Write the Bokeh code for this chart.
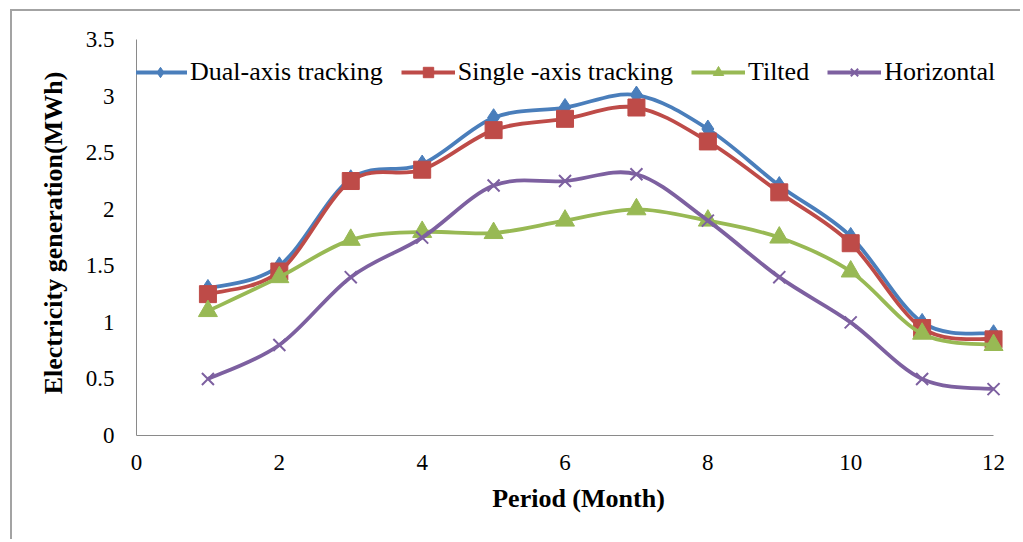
from bokeh.plotting import figure
from bokeh.models import Range1d, FixedTicker, Legend, LegendItem, ColumnDataSource
from bokeh.embed import file_html
from bokeh.resources import INLINE

# ---- data ----
months = [1, 2, 3, 4, 5, 6, 7, 8, 9, 10, 11, 12]
dual_axis = [1.30, 1.50, 2.27, 2.40, 2.81, 2.90, 3.01, 2.71, 2.21, 1.76, 1.00, 0.90]
single_axis = [1.25, 1.45, 2.25, 2.35, 2.70, 2.80, 2.90, 2.60, 2.15, 1.70, 0.95, 0.85]
tilted = [1.10, 1.40, 1.73, 1.80, 1.79, 1.90, 2.00, 1.90, 1.75, 1.45, 0.90, 0.80]
horizontal = [0.50, 0.80, 1.40, 1.75, 2.21, 2.25, 2.31, 1.90, 1.40, 1.00, 0.50, 0.41]

series_names = ["Dual-axis tracking", "Single -axis tracking", "Tilted", "Horizontal"]
series_values = [dual_axis, single_axis, tilted, horizontal]
series_colors = ["#4a7ebb", "#be4b48", "#98b954", "#7d60a0"]
series_markers = ["diamond", "square", "triangle", "x"]
marker_sizes = [18, 17, 19, 17]

x_ticks = [0, 2, 4, 6, 8, 10, 12]
y_ticks = [0, 0.5, 1, 1.5, 2, 2.5, 3, 3.5]
y_tick_labels = ["0", "0.5", "1", "1.5", "2", "2.5", "3", "3.5"]

FONT = "'Liberation Serif', 'Times New Roman', Times, serif"

W, H = 1010, 530
p = figure(width=W, height=H, output_backend="svg", toolbar_location=None,
           min_border_left=124, min_border_right=2, min_border_top=19,
           min_border_bottom=106)
p.margin = (9, 0, 0, 10)
p.styles = {"border-left": "2px solid #a3a3a3", "border-top": "2px solid #a3a3a3"}
p.x_range = Range1d(0, 884 / 71.42)
p.y_range = Range1d(0, 405 / 113.1)
p.outline_line_color = None
p.grid.visible = False
p.background_fill_color = "white"
p.border_fill_color = "white"


def smooth_segments(xs, ys):
    """Catmull-Rom style bezier control points (Excel-like smoothed line)."""
    n = len(xs)
    x0, y0, x1, y1, cx0, cy0, cx1, cy1 = [], [], [], [], [], [], [], []
    for i in range(n - 1):
        xm1, ym1 = (xs[i - 1], ys[i - 1]) if i > 0 else (xs[i], ys[i])
        xp2, yp2 = (xs[i + 2], ys[i + 2]) if i + 2 < n else (xs[i + 1], ys[i + 1])
        x0.append(xs[i]); y0.append(ys[i])
        x1.append(xs[i + 1]); y1.append(ys[i + 1])
        cx0.append(xs[i] + (xs[i + 1] - xm1) / 6.0)
        cy0.append(ys[i] + (ys[i + 1] - ym1) / 6.0)
        cx1.append(xs[i + 1] - (xp2 - xs[i]) / 6.0)
        cy1.append(ys[i + 1] - (yp2 - ys[i]) / 6.0)
    return dict(x0=x0, y0=y0, x1=x1, y1=y1, cx0=cx0, cy0=cy0, cx1=cx1, cy1=cy1)


items = []
for name, vals, col, mk, ms in zip(series_names, series_values, series_colors,
                                    series_markers, marker_sizes):
    seg = ColumnDataSource(smooth_segments(months, vals))
    lr = p.bezier(x0="x0", y0="y0", x1="x1", y1="y1", cx0="cx0", cy0="cy0",
                  cx1="cx1", cy1="cy1", source=seg, line_color=col, line_width=3.8)
    if mk == "x":
        sr = p.scatter(months, vals, marker=mk, size=ms, line_color=col, line_width=2)
    else:
        sr = p.scatter(months, vals, marker=mk, size=ms, fill_color=col, line_color=col)
    items.append(LegendItem(label=name, renderers=[lr, sr]))

legend = Legend(items=items, orientation="horizontal", location=(-3, 348),
                glyph_width=54, glyph_height=26, label_height=26,
                label_standoff=3, spacing=18, padding=0, margin=0,
                background_fill_alpha=0, border_line_alpha=0,
                label_text_font=FONT, label_text_font_size="26px",
                label_text_color="#000000")
p.add_layout(legend, "center")

for ax in (p.xaxis[0], p.yaxis[0]):
    ax.axis_line_color = "#8a8a8a"
    ax.axis_line_width = 1
    ax.major_tick_line_color = None
    ax.minor_tick_line_color = None
    ax.major_tick_out = 0
    ax.major_label_text_font = FONT
    ax.major_label_text_font_size = "23px"
    ax.major_label_text_color = "#000000"
    ax.axis_label_text_font = FONT
    ax.axis_label_text_font_size = "26px"
    ax.axis_label_text_font_style = "bold"
    ax.axis_label_text_color = "#000000"

p.xaxis.ticker = FixedTicker(ticks=x_ticks)
p.xaxis.bounds = (x_ticks[0], x_ticks[-1])
p.xaxis.axis_label = "Period (Month)"
p.xaxis.major_label_standoff = 19
p.xaxis.axis_label_standoff = 11

p.yaxis.ticker = FixedTicker(ticks=y_ticks)
p.yaxis.major_label_overrides = {t: l for t, l in zip(y_ticks, y_tick_labels)}
p.yaxis.bounds = (y_ticks[0], y_ticks[-1])
p.yaxis.axis_label = "Electricity generation(MWh)"
p.yaxis.major_label_standoff = 22
p.yaxis.axis_label_standoff = 15

open("out.html", "w").write(file_html(p, INLINE))
